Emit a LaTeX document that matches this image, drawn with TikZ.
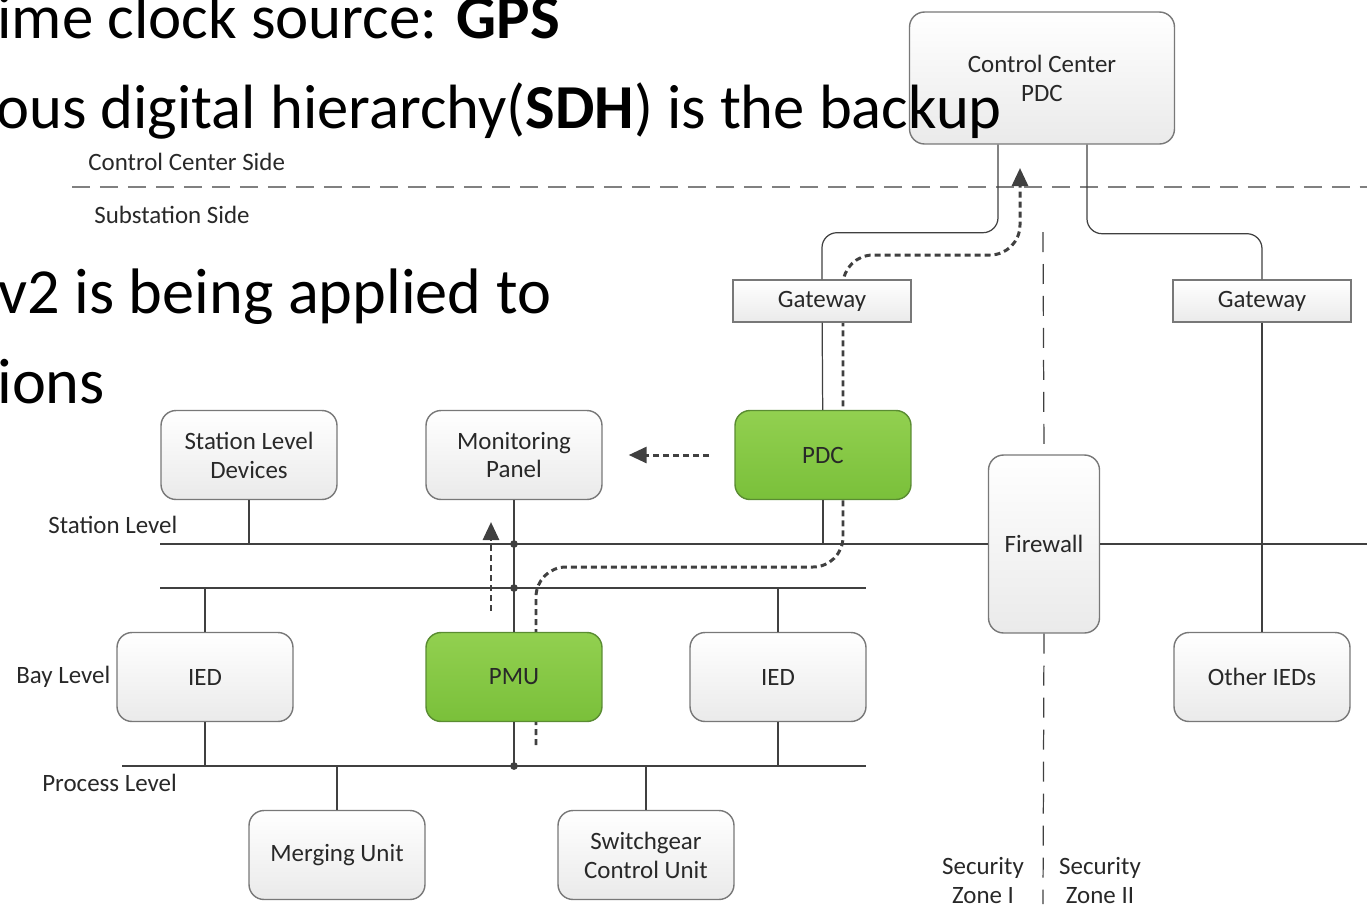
\documentclass[tikz,border=0pt]{standalone}
\usepackage{fontspec}
\setmainfont{Carlito}
\usepackage{tikz}
\usepackage{xcolor}
\usetikzlibrary{arrows.meta, positioning}

\definecolor{boxline}{RGB}{120,120,120}
\definecolor{boxfill}{RGB}{234,234,234}
\definecolor{wirecol}{RGB}{64,64,64}
\definecolor{greentop}{RGB}{146,208,80}
\definecolor{greenbot}{RGB}{122,192,58}
\definecolor{greenline}{RGB}{90,140,50}
\definecolor{txt}{RGB}{40,40,40}

\newcommand{\diagfont}{\fontsize{14.2}{16.5}\selectfont}
\newcommand{\slidefont}{\fontsize{36.6}{42}\selectfont}

\tikzset{
  device/.style={draw=boxline, line width=0.8pt, rounded corners=0.3cm, top color=white, bottom color=boxfill,
    minimum width=3.52cm, minimum height=1.78cm, align=center, text=txt, font=\diagfont, inner sep=2pt},
  pmubox/.style={device, draw=greenline, top color=greentop, bottom color=greenbot},
  gateway/.style={device, rounded corners=0pt, minimum height=0.84cm, minimum width=3.56cm},
  label/.style={text=txt, font=\diagfont, inner sep=0pt},
  slide/.style={anchor=base west, inner sep=0pt, font=\slidefont},
  wire/.style={draw=wirecol, line width=0.7pt},
  flow/.style={draw=wirecol, line width=1.7pt, dash pattern=on 0.12cm off 0.08cm, rounded corners=0.6cm,
    -{Triangle[length=0.36cm, width=0.32cm]}},
  sideline/.style={draw=gray, line width=1pt, dash pattern=on 0.36cm off 0.2cm},
  zone/.style={draw=wirecol, line width=0.7pt, dash pattern=on 0.4cm off 0.24cm},
  joint/.style={fill=wirecol}
}

\begin{document}
\begin{tikzpicture}[x=0.02cm, y=-0.02cm]
\useasboundingbox (0,0) rectangle (1367,904);

% Side border
\coordinate (side-w) at (72,187);
\coordinate (side-e) at (1367,187);
\draw[sideline] (side-w) -- (side-e);
\node[label, anchor=west] (ccside) at (88,162) {Control Center Side};
\node[label, anchor=west] (subside) at (94,215) {Substation Side};

% Data path PMU -> PDC -> Control Center
\coordinate (fstart) at (536,745);
\coordinate (fend) at (1020,168);
\draw[flow] (fstart) -- (536,567) -- (843,567) -- (843,255) -- (1020,255) -- (fend);

% Buses
\coordinate (st-w) at (160,544);
\coordinate (st-e) at (1367,544);
\coordinate (bay-w) at (160,588);
\coordinate (bay-e) at (866,588);
\coordinate (pr-w) at (122,766);
\coordinate (pr-e) at (866,766);

% Boxes
\node[device, minimum width=5.3cm, minimum height=2.64cm] (cc) at (1042,78) {Control Center\\PDC};
\node[gateway] (gw1) at (822,301) {Gateway};
\node[gateway] (gw2) at (1262,301) {Gateway};
\node[pmubox] (pdc) at (823,455) {PDC};
\node[device, minimum width=2.22cm, minimum height=3.56cm] (fw) at (1044,544) {Firewall};
\node[device] (oth) at (1262,677) {Other IEDs};
\node[device] (sld) at (249,455) {Station Level\\Devices};
\node[device] (mon) at (514,455) {Monitoring\\Panel};
\node[device] (ied1) at (205,677) {IED};
\node[pmubox] (pmu) at (514,677) {PMU};
\node[device] (ied2) at (778,677) {IED};
\node[device] (mu) at (337,855) {Merging Unit};
\node[device] (sgcu) at (646,855) {Switchgear\\Control Unit};

% Level labels
\node[label, anchor=west] (stlvl) at (48,525) {Station Level};
\node[label, anchor=west] (baylvl) at (16,677) {Bay Level};
\node[label, anchor=west] (prlvl) at (42,783) {Process Level};

% Security zones
\coordinate (zt) at (1043,232);
\coordinate (zb) at (1043,904);
\draw[zone] (zt) -- (fw.north);
\draw[zone] (fw.south) -- (zb);
\node[label, align=center] (zone1) at (983,880) {Security\\Zone I};
\node[label, align=center] (zone2) at (1100,880) {Security\\Zone II};

% Bus lines
\draw[wire] (st-w) -- (fw.west);
\draw[wire] (fw.east) -- (st-e);
\draw[wire] (bay-w) -- (bay-e);
\draw[wire] (pr-w) -- (pr-e);

% Control center links
\draw[wire, rounded corners=0.3cm] ([xshift=-0.88cm]cc.south) -- ++(0,88) -| (gw1.north);
\draw[wire, rounded corners=0.3cm] ([xshift=0.9cm]cc.south) -- ++(0,89) -| (gw2.north);
\draw[wire] (gw1) -- (pdc);
\draw[wire] (pdc) -- (pdc |- st-w);
\draw[wire] (gw2) -- (oth);

% Station and bay links
\draw[wire] (sld) -- (sld |- st-w);
\draw[wire] (mon) -- (pmu);
\draw[wire] (ied1) -- (ied1 |- bay-w);
\draw[wire] (ied1) -- (ied1 |- pr-w);
\draw[wire] (ied2) -- (ied2 |- bay-w);
\draw[wire] (ied2) -- (ied2 |- pr-w);
\draw[wire] (pmu) -- (pmu |- pr-w);
\draw[wire] (mu) -- (mu |- pr-w);
\draw[wire] (sgcu) -- (sgcu |- pr-w);
\fill[joint] (mon |- st-w) circle (2.2pt);
\fill[joint] (mon |- bay-w) circle (2.2pt);
\fill[joint] (pmu |- pr-w) circle (2.2pt);

% Local data flows
\draw[flow] ([xshift=-0.5cm]pdc.west) -- ([xshift=0.52cm]mon.east);
\draw[flow] ([shift={(-23,-21)}]pmu.north) -- ([shift={(-23,-22)}]pmu.north |- st-w);

% Slide text over the picture
\node[slide, font=\fontsize{35.8}{42}\selectfont] (t1) at (-3,38) {ime clock source: \textbf{GPS}};
\node[slide, font=\fontsize{35.6}{42}\selectfont] (t2) at (-4,128) {ous digital hierarchy(\textbf{SDH}) is the backup};
\node[slide] (t3) at (-2,313) {v2 is being applied to};
\node[slide] (t4) at (-3,403) {ions};
\end{tikzpicture}
\end{document}
